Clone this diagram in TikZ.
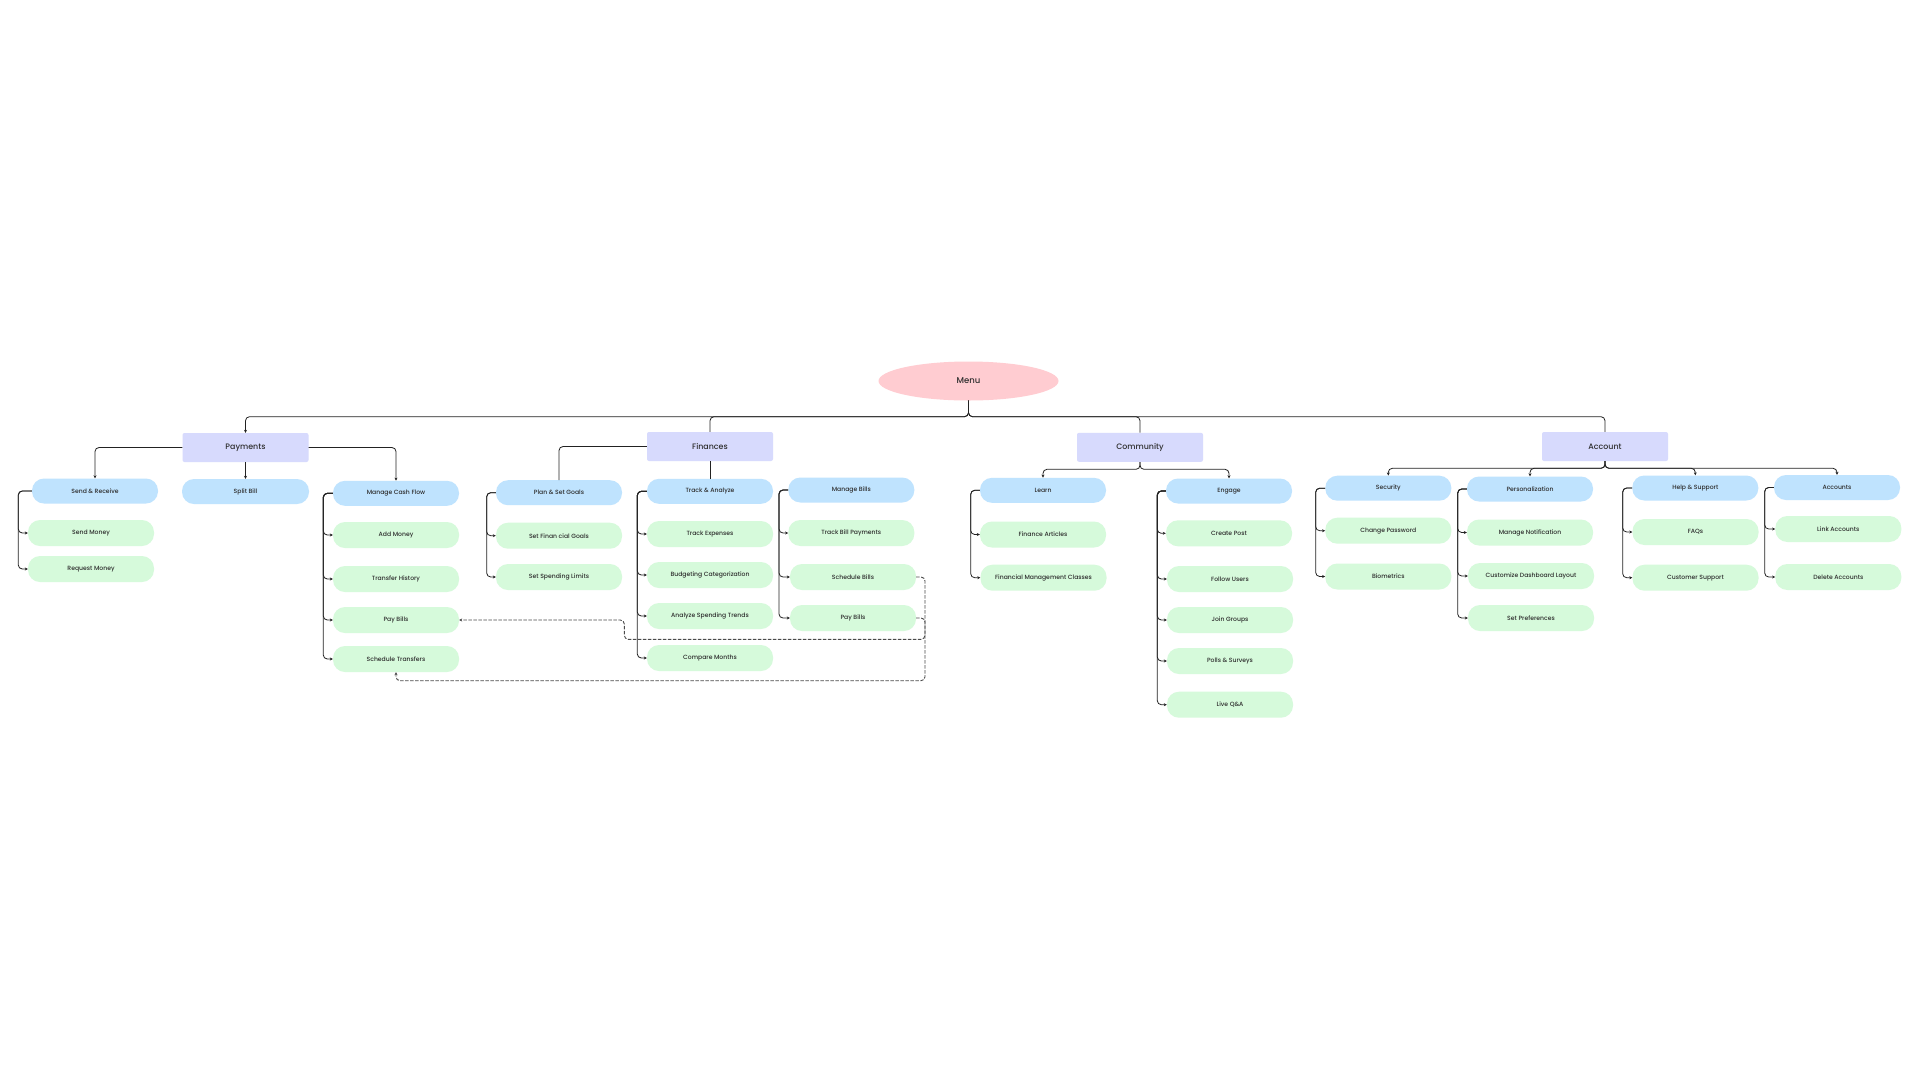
\documentclass[tikz,border=0pt]{standalone}
\usepackage{fontspec}
\setmainfont{Poppins}[UprightFont=* Medium]
\usetikzlibrary{arrows.meta,shapes.geometric,calc}
\definecolor{menupink}{HTML}{FFCCD1}
\definecolor{catlav}{HTML}{D7DAFD}
\definecolor{subblue}{HTML}{BFE3FE}
\definecolor{leafgreen}{HTML}{D6FADB}
\definecolor{txt}{HTML}{2E2E2E}
\definecolor{ln}{HTML}{222222}
\definecolor{dln}{HTML}{4A4A4A}
\begin{document}
\begin{tikzpicture}[x=1pt,y=-1pt,
  base/.style={inner sep=0pt, text=txt, align=center},
  catbox/.style={base, fill=catlav, rounded corners=2pt, minimum width=126pt, minimum height=29pt, font=\fontsize{7.9pt}{9pt}\selectfont},
  subbox/.style={base, fill=subblue, rounded corners=12pt, minimum width=126pt, minimum height=25pt, font=\fontsize{6.1pt}{7pt}\selectfont},
  leafbox/.style={subbox, fill=leafgreen, minimum height=26pt},
  conn/.style={draw=ln, line width=0.8pt, rounded corners=4pt},
  arr/.style={conn, -{Stealth[length=3pt,width=3pt]}},
  dsh/.style={draw=dln, line width=0.9pt, dash pattern=on 3.5pt off 1.5pt, rounded corners=4pt, -{Stealth[length=3pt,width=3pt]}}
]
\useasboundingbox[fill=white] (0,0) rectangle (1920,1080);

% Menu
\node[base, ellipse, fill=menupink, minimum width=180pt, minimum height=39pt, font=\fontsize{8.5pt}{10pt}\selectfont] (menu) at (968.5,381) {Menu};

% Categories
\node[catbox] (pay) at (245.5,447.5) {Payments};
\node[catbox] (fin) at (710,446.5) {Finances};
\node[catbox] (com) at (1140,447.3) {Community};
\node[catbox] (acc) at (1605,446.5) {Account};

% Payments
\node[subbox] (sr) at (95,491) {Send \& Receive};
\node[subbox, minimum width=127pt] (split) at (245.5,491.5) {Split Bill};
\node[subbox] (mcf) at (396,493.3) {Manage Cash Flow};
\node[leafbox] (sm) at (91,533) {Send Money};
\node[leafbox] (rm) at (91,569) {Request Money};
\node[leafbox] (am) at (396,535) {Add Money};
\node[leafbox] (th) at (396,579) {Transfer History};
\node[leafbox] (pbp) at (396,620) {Pay Bills};
\node[leafbox] (st) at (396,659) {Schedule Transfers};

% Finances
\node[subbox] (plan) at (559,492.7) {Plan \& Set Goals};
\node[leafbox] (sfg) at (559,535.7) {Set Finan cial Goals};
\node[leafbox] (ssl) at (559,577) {Set Spending Limits};
\node[subbox] (ta) at (710,491.3) {Track \& Analyze};
\node[leafbox] (te) at (710,534) {Track Expenses};
\node[leafbox] (bc) at (710,575) {Budgeting Categorization};
\node[leafbox] (ast) at (710,616) {Analyze Spending Trends};
\node[leafbox] (cm) at (710,658) {Compare Months};
\node[subbox] (mb) at (851.3,490) {Manage Bills};
\node[leafbox] (tbp) at (851.3,533) {Track Bill Payments};
\node[leafbox] (sb) at (853,577) {Schedule Bills};
\node[leafbox] (pbf) at (853,618) {Pay Bills};

% Community
\node[subbox] (learn) at (1043,490.3) {Learn};
\node[leafbox] (fa) at (1043,534.5) {Finance Articles};
\node[leafbox] (fmc) at (1043.5,577.7) {Financial Management Classes};
\node[subbox] (eng) at (1229,491) {Engage};
\node[leafbox] (cp) at (1229,533.3) {Create Post};
\node[leafbox] (fu) at (1230,579) {Follow Users};
\node[leafbox] (jg) at (1230,620) {Join Groups};
\node[leafbox] (ps) at (1230,661) {Polls \& Surveys};
\node[leafbox] (lqa) at (1230,704.7) {Live Q\&A};

% Account
\node[subbox] (sec) at (1388.3,488.2) {Security};
\node[leafbox] (cpw) at (1388.3,530.7) {Change Password};
\node[leafbox] (bio) at (1388.3,576.5) {Biometrics};
\node[subbox] (pers) at (1530,489) {Personalization};
\node[leafbox] (mn) at (1530,532.5) {Manage Notification};
\node[leafbox] (cdl) at (1531,576) {Customize Dashboard Layout};
\node[leafbox] (sp) at (1531,618) {Set Preferences};
\node[subbox] (hs) at (1695.3,488) {Help \& Support};
\node[leafbox] (faq) at (1695.5,532) {FAQs};
\node[leafbox] (cs) at (1695.5,577.7) {Customer Support};
\node[subbox] (accs) at (1837,487.5) {Accounts};
\node[leafbox] (la) at (1838.3,529) {Link Accounts};
\node[leafbox] (da) at (1838.3,577) {Delete Accounts};

% helper coordinates
\coordinate (topy) at (0,416.7);
\coordinate (comy) at (0,469.3);
\coordinate (accy) at (0,468.3);
\coordinate (t1) at (18.3,0);
\coordinate (t2) at (323.3,0);
\coordinate (t3) at (486.7,0);
\coordinate (t4) at (637.3,0);
\coordinate (t5) at (779,0);
\coordinate (t6) at (970.7,0);
\coordinate (t7) at (1157.3,0);
\coordinate (t8) at (1315.7,0);
\coordinate (t9) at (1457.7,0);
\coordinate (t10) at (1622.7,0);
\coordinate (t11) at (1764.7,0);
\coordinate (dA) at (925,680.7);
\coordinate (dB) at (925,639.3);
\coordinate (dC) at (624.3,620);

% Menu to categories
\draw[arr] (menu.south) |- (pay.north |- topy) -- (pay.north);
\draw[conn] (menu.south) |- (fin.north |- topy) -- (fin.north);
\draw[conn] (menu.south) |- (com.north |- topy) -- (com.north);
\draw[conn] (menu.south) |- (acc.north |- topy) -- (acc.north);

% Payments
\draw[arr] (pay.west) -| (sr.north);
\draw[arr] (pay.south) -- (split.north);
\draw[arr] (pay.east) -| (mcf.north);
\foreach \c in {sm,rm} \draw[arr] (sr.west) -| (t1 |- \c.west) -- (\c.west);
\foreach \c in {am,th,pbp,st} \draw[arr] (mcf.west) -| (t2 |- \c.west) -- (\c.west);

% Finances
\draw[conn] (fin.west) -| (plan.north);
\draw[conn] (fin.south) -- (ta.north);
\foreach \c in {sfg,ssl} \draw[arr] (plan.west) -| (t3 |- \c.west) -- (\c.west);
\foreach \c in {te,bc,ast,cm} \draw[arr] (ta.west) -| (t4 |- \c.west) -- (\c.west);
\foreach \c in {tbp,sb,pbf} \draw[arr] (mb.west) -| (t5 |- \c.west) -- (\c.west);

% Community
\draw[arr] (com.south) |- (learn.north |- comy) -- (learn.north);
\draw[arr] (com.south) |- (eng.north |- comy) -- (eng.north);
\foreach \c in {fa,fmc} \draw[arr] (learn.west) -| (t6 |- \c.west) -- (\c.west);
\foreach \c in {cp,fu,jg,ps,lqa} \draw[arr] (eng.west) -| (t7 |- \c.west) -- (\c.west);

% Account
\foreach \c in {sec,pers,hs,accs} \draw[arr] (acc.south) |- (\c.north |- accy) -- (\c.north);
\foreach \c in {cpw,bio} \draw[arr] (sec.west) -| (t8 |- \c.west) -- (\c.west);
\foreach \c in {mn,cdl,sp} \draw[arr] (pers.west) -| (t9 |- \c.west) -- (\c.west);
\foreach \c in {faq,cs} \draw[arr] (hs.west) -| (t10 |- \c.west) -- (\c.west);
\foreach \c in {la,da} \draw[arr] (accs.west) -| (t11 |- \c.west) -- (\c.west);

% Dashed cross links
\draw[dsh] (sb.east) -| (dA) -| (st.south);
\draw[dsh] (pbf.east) -| (dB) -| (dC) -- (pbp.east);
\end{tikzpicture}
\end{document}
